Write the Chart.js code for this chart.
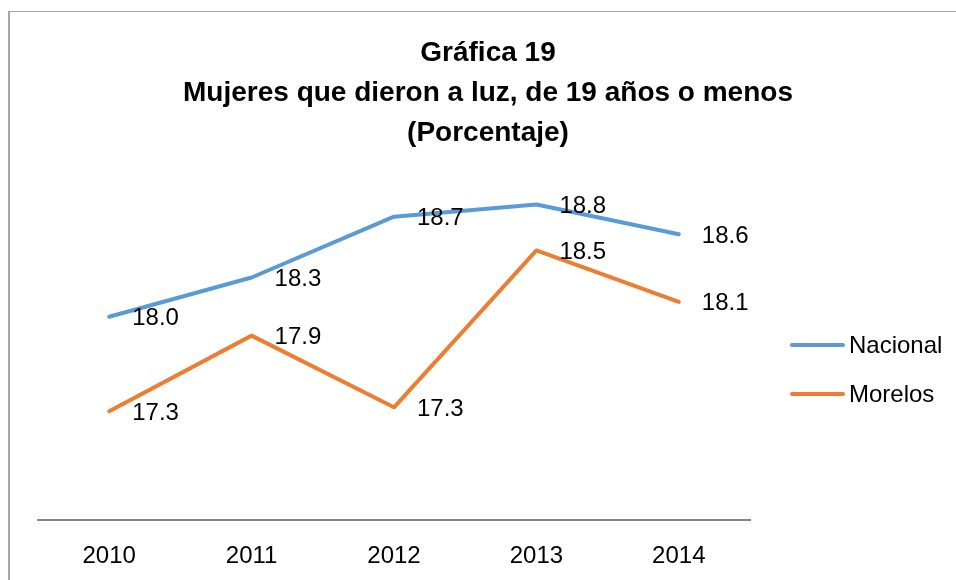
<!DOCTYPE html>
<html>
<head>
<meta charset="utf-8">
<script src="https://cdn.jsdelivr.net/npm/chart.js@4.4.0/dist/chart.umd.min.js"></script>
<style>
  html, body { margin: 0; padding: 0; background: #fff; overflow: hidden; }
  #frame { position: absolute; left: 8px; top: 11px; width: 1000px; height: 1000px;
           border-left: 2px solid #a6a6a6; border-top: 1px solid #a6a6a6; }
  #wrap { position: absolute; left: 0; top: 0; width: 956px; height: 580px; }
</style>
</head>
<body>
<div id="frame"></div>
<div id="wrap"><canvas id="chart" width="956" height="580"></canvas></div>
<script>
// data
const years = ['2010', '2011', '2012', '2013', '2014']
const nacional = [18.00, 18.29, 18.74, 18.83, 18.61]
const morelos = [17.30, 17.86, 17.33, 18.49, 18.11]
const seriesNames = ['Nacional', 'Morelos']
const seriesColors = ['#5B9BD5', '#ED7D31']
const titleLines = ['Gráfica 19', 'Mujeres que dieron a luz, de 19 años o menos', '(Porcentaje)']
const yMin = 16.5
const yMax = 19.0

const FONT = '"Liberation Sans", Arial, sans-serif'

// value labels to the right of each point
const valueLabels = {
    id: 'valueLabels',
    afterDatasetsDraw(chart){
        const ctx = chart.ctx
        ctx.save()
        ctx.font = '24px ' + FONT
        ctx.fillStyle = '#000'
        ctx.textAlign = 'left'
        ctx.textBaseline = 'middle'
        chart.data.datasets.forEach((ds, i)=>{
            chart.getDatasetMeta(i).data.forEach((pt, j)=>{
                ctx.fillText(ds.data[j].toFixed(1), pt.x + 23, pt.y + 2)
            })
        })
        ctx.restore()
    }
}

// legend at the right, line samples like the original
const sideLegend = {
    id: 'sideLegend',
    afterDraw(chart){
        const ctx = chart.ctx
        const x0 = chart.chartArea.right + 40
        ctx.save()
        ctx.font = '24px ' + FONT
        ctx.fillStyle = '#000'
        ctx.textAlign = 'left'
        ctx.textBaseline = 'middle'
        chart.data.datasets.forEach((ds, i)=>{
            const y = 345 + i * 49
            ctx.strokeStyle = ds.borderColor
            ctx.lineWidth = 4
            ctx.lineCap = 'round'
            ctx.beginPath()
            ctx.moveTo(x0 + 2, y)
            ctx.lineTo(x0 + 53, y)
            ctx.stroke()
            ctx.fillText(ds.label, x0 + 59, y + 1)
        })
        ctx.restore()
    }
}

const lineStyle = (name, values, color)=>({
    label: name,
    data: values,
    borderColor: color,
    backgroundColor: color,
    borderWidth: 4,
    borderCapStyle: 'round',
    borderJoinStyle: 'round',
    pointRadius: 0,
    tension: 0,
    yAxisID: 'y'
})

new Chart(document.getElementById('chart'), {
    type: 'line',
    data: {
        labels: years,
        datasets: [
            lineStyle(seriesNames[0], nacional, seriesColors[0]),
            lineStyle(seriesNames[1], morelos, seriesColors[1])
        ]
    },
    options: {
        responsive: false,
        animation: false,
        layout: { padding: { left: 20, right: 0, top: 0, bottom: 0 } },
        plugins: {
            legend: { display: false },
            tooltip: { enabled: false },
            title: {
                display: true,
                text: titleLines,
                color: '#000',
                font: { family: FONT, size: 28, weight: 'bold', lineHeight: 40 / 28 },
                padding: { top: 33, bottom: 28.5 }
            }
        },
        scales: {
            x: {
                offset: true,
                grid: { display: false, drawTicks: false, offset: true },
                border: { display: true, color: '#868686', width: 2 },
                ticks: { color: '#000', font: { family: FONT, size: 24 }, padding: 22 },
                afterFit(s){ s.height = 60.5 }
            },
            y: {
                min: yMin,
                max: yMax,
                grid: { display: false, drawTicks: false },
                border: { display: false },
                ticks: { display: false },
                afterFit(s){ s.width = 18 }
            },
            spacer: {
                type: 'linear',
                position: 'right',
                grid: { display: false, drawTicks: false },
                border: { display: false },
                ticks: { display: false },
                afterFit(s){ s.width = 206 }
            }
        }
    },
    plugins: [valueLabels, sideLegend]
})
</script>
</body>
</html>
